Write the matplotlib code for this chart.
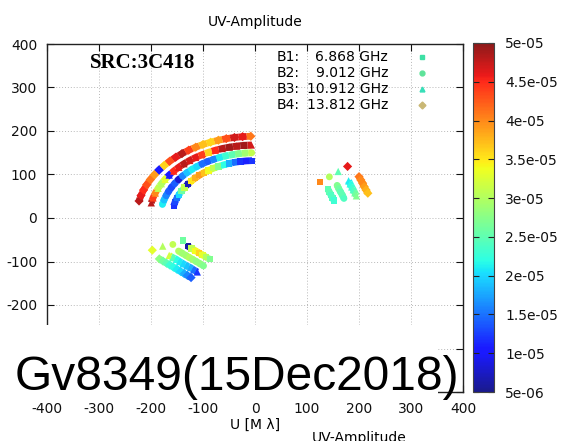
import numpy as np
import matplotlib
matplotlib.use("Agg")
import matplotlib.pyplot as plt
from matplotlib.colors import Normalize, ListedColormap
from matplotlib.collections import LineCollection
from matplotlib.patches import Rectangle

plt.rcParams["font.family"] = ["DejaVu Sans"]
plt.rcParams["font.size"] = 10
plt.rcParams["axes.unicode_minus"] = False

# ---------------- data: U, V in M-lambda, amplitude in units of 1e-5 ----------------
bands = ["B1:", "B2:", "B3:", "B4:"]
freqs = ["6.868 GHz", "9.012 GHz", "10.912 GHz", "13.812 GHz"]

# every band is stored as consecutive tracks: long arc, lower streak,
# right streak, then two isolated visibilities (lengths in bN_tracks)

# B1
b1_u = [-156.5, -153.8, -150.4, -146.2, -141.3, -135.7, -129.4, -122.6, -115.1, -107.1,
        -98.5, -89.5, -80.0, -70.1, -59.9, -49.4, -38.7, -27.8, -16.7, -5.6,
        -129, -122, -115, -108, -101, -94, -87,
        140, 143, 146, 149, 152,
        -139, 125]
b1_v = [27.4, 36.4, 45.1, 53.7, 62.0, 69.9, 77.6, 84.8, 91.7, 98.1,
        104.0, 109.4, 114.3, 118.6, 122.4, 125.5, 128.1, 130.0, 131.3, 131.9,
        -65, -70, -75, -80, -85, -90, -95,
        66.5, 60, 53, 46.5, 40,
        -51.6, 83]
b1_amp = [1.2, 1.3, 1.5, 2.0, 2.6, 3.1, 0.7, 3.5, 3.8, 3.9,
          3.7, 3.4, 3.1, 2.7, 2.2, 1.8, 1.5, 1.2, 1.1, 1.2,
          0.6, 3.1, 3.4, 3.6, 3.3, 3.0, 2.7,
          2.5, 2.5, 2.4, 2.4, 2.3,
          2.6, 4.0]
b1_tracks = [20, 7, 5, 1, 1]

# B2
b2_u = [-178.0, -175.0, -171.0, -166.3, -160.7, -154.3, -147.2, -139.4, -130.9, -121.8,
        -112.1, -101.8, -91.0, -79.8, -68.2, -56.2, -44.0, -31.6, -19.0, -6.4,
        -147, -140, -133, -126, -120, -113, -106, -99,
        158, 161, 164.5, 168, 171,
        -158, 143]
b2_v = [31.2, 41.3, 51.3, 61.0, 70.4, 79.5, 88.2, 96.4, 104.2, 111.5,
        118.2, 124.4, 129.9, 134.8, 139.1, 142.7, 145.5, 147.7, 149.2, 149.9,
        -76, -81, -86, -91, -95, -100, -105, -110,
        75, 67.5, 60, 52.5, 45,
        -60.8, 94.6]
b2_amp = [2.1, 1.9, 1.6, 1.4, 1.3, 1.4, 0.8, 1.6, 1.9, 2.1,
          2.0, 1.5, 1.4, 1.6, 2.1, 2.3, 2.5, 2.7, 2.9, 3.1,
          3.0, 2.9, 2.9, 3.0, 2.9, 2.8, 2.8, 2.7,
          2.7, 2.6, 2.5, 2.5, 2.4,
          3.1, 3.0]
b2_tracks = [20, 8, 5, 1, 1]

# B3
b3_u = [-199.5, -196.1, -191.7, -186.4, -180.1, -173.0, -165.0, -156.3, -146.7, -136.5,
        -125.6, -114.1, -102.0, -89.4, -76.4, -63.0, -49.3, -35.4, -21.3, -7.1,
        -165, -158, -151, -145, -138, -131, -124, -118, -111,
        180, 183, 186, 189, 192, 195,
        -177.5, 160]
b3_v = [34.9, 46.3, 57.5, 68.3, 78.9, 89.0, 98.8, 108.0, 116.7, 124.8,
        132.4, 139.3, 145.5, 151.0, 155.8, 159.8, 163.0, 165.4, 167.1, 167.9,
        -86, -91, -95, -100, -105, -110, -114, -119, -124,
        85.5, 78.5, 71.5, 65, 58, 51,
        -64.6, 107]
b3_amp = [4.8, 4.4, 4.0, 3.1, 3.0, 3.3, 1.0, 4.5, 4.6, 4.8,
          4.7, 4.6, 4.4, 3.6, 4.5, 4.8, 4.9, 4.8, 4.9, 4.7,
          3.2, 2.5, 2.2, 2.1, 2.0, 1.9, 1.8, 1.5, 1.2,
          2.1, 2.2, 2.3, 2.4, 2.6, 2.7,
          3.0, 2.5]
b3_tracks = [20, 9, 6, 1, 1]

# B4
b4_u = [-223.0, -219.2, -214.3, -208.3, -201.3, -193.3, -184.5, -174.6, -164.0, -152.6,
        -140.4, -127.5, -114.0, -100.0, -85.4, -70.5, -55.2, -39.6, -23.8, -8.0,
        -184, -177, -170, -164, -157, -150, -143, -136, -130, -123,
        200, 203.5, 207, 210, 213.5, 217,
        -197.5, 178]
b4_v = [39.1, 51.8, 64.3, 76.5, 88.3, 99.6, 110.5, 120.8, 130.6, 139.7,
        148.1, 155.9, 162.8, 169.0, 174.3, 178.8, 182.4, 185.1, 187.0, 187.9,
        -94, -99, -104, -108, -113, -118, -123, -128, -132, -137,
        95, 87.5, 80, 72, 64.5, 57,
        -74, 118.5]
b4_amp = [4.8, 4.6, 4.5, 4.3, 4.1, 3.9, 1.0, 3.6, 4.3, 4.6,
          4.8, 4.4, 4.0, 3.7, 3.6, 3.9, 4.3, 4.7, 4.6, 4.1,
          2.8, 2.6, 2.5, 2.3, 2.2, 2.1, 2.0, 1.8, 1.6, 1.4,
          4.1, 4.0, 4.0, 3.9, 3.8, 3.7,
          3.3, 4.6]
b4_tracks = [20, 10, 6, 1, 1]

cbar_ticks = [5e-6, 1e-5, 1.5e-5, 2e-5, 2.5e-5, 3e-5, 3.5e-5, 4e-5, 4.5e-5, 5e-5]
cbar_labels = ["5e-06", "1e-05", "1.5e-05", "2e-05", "2.5e-05", "3e-05",
               "3.5e-05", "4e-05", "4.5e-05", "5e-05"]
axis_ticks = [-400, -300, -200, -100, 0, 100, 200, 300, 400]
xtick_labels = ["-400", "-300", "-200", "-100", "0", "100", "200", "300", "400"]
ytick_labels = ["", "", "-200", "-100", "0", "100", "200", "300", "400"]

# ---------------- styling ----------------
jet = plt.get_cmap("jet")(np.linspace(0, 1, 256))
jet[:, :3] = jet[:, :3] * 0.9 + 0.1
cmap = ListedColormap(jet)
norm = Normalize(vmin=5e-6, vmax=5e-5)

markers = ["s", "o", "^", "D"]
sizes = [20, 24, 28, 22]
band_width = 4.9  # points, thickness of a sampled track
legend_colors = ["#3ee0a5", "#5ee39a", "#36dfb8", "#c9b774"]

W, H = 563, 441
fig = plt.figure(figsize=(W / 100, H / 100), dpi=100)
ax = fig.add_axes([47 / W, 1 - 392 / H, 416 / W, 348 / H])
cax = fig.add_axes([473 / W, 1 - 392 / H, 21 / W, 349 / H])

series = [(b1_u, b1_v, b1_amp, b1_tracks), (b2_u, b2_v, b2_amp, b2_tracks),
          (b3_u, b3_v, b3_amp, b3_tracks), (b4_u, b4_v, b4_amp, b4_tracks)]
sc = None
for (u, v, a, tracks), m, s in zip(series, markers, sizes):
    u = np.asarray(u, float)
    v = np.asarray(v, float)
    amp = np.asarray(a, float) * 1e-5
    # each sample paints the stretch of track half-way to its neighbours
    pieces, piece_vals = [], []
    start = 0
    for n in tracks:
        pu, pv, pa = u[start:start + n], v[start:start + n], amp[start:start + n]
        if n > 1:
            for i in range(n):
                p = np.array([pu[i], pv[i]])
                lo = (np.array([pu[i - 1], pv[i - 1]]) + p) / 2 if i > 0 else p
                hi = (np.array([pu[i + 1], pv[i + 1]]) + p) / 2 if i < n - 1 else p
                pieces.append([lo, p, hi])
                piece_vals.append(pa[i])
        start += n
    lc = LineCollection(pieces, cmap=cmap, norm=norm, linewidths=band_width,
                        capstyle="butt", joinstyle="round", zorder=2)
    lc.set_array(np.array(piece_vals))
    ax.add_collection(lc)
    sc = ax.scatter(u, v, c=amp, cmap=cmap, norm=norm,
                    marker=m, s=s, linewidths=0, zorder=3)

ax.set_xlim(-400, 400)
ax.set_ylim(-400, 400)
ax.set_xticks(axis_ticks, xtick_labels)
ax.set_yticks(axis_ticks, ytick_labels)
ax.grid(True, color="#b8b8b8", linestyle=(0, (1, 2)), linewidth=0.7)
ax.set_axisbelow(True)
ax.tick_params(direction="in", length=5, top=True, right=True, pad=7,
               colors="#111111", labelcolor="#111111")
for sp in ax.spines.values():
    sp.set_color("#222222")
    sp.set_linewidth(1.0)

ax.set_title("UV-Amplitude", fontsize=10, pad=13)
ax.set_xlabel("U [M \u03bb]", fontsize=10)
ax.xaxis.set_label_coords(0.5, -0.073)

# source name
ax.text((90 - 47) / 416, 1 - (68 - 44) / 348, "SRC:3C418", transform=ax.transAxes,
        family="Liberation Serif", fontweight="bold", fontsize=15,
        ha="left", va="baseline")

# key
key_y = [57, 73, 89, 105]
for band, fq, m, col, yy in zip(bands, freqs, markers, legend_colors, key_y):
    ya = 1 - (yy - 44) / 348
    ax.text((277 - 47) / 416, ya, band, transform=ax.transAxes, ha="left", va="center")
    ax.text((388 - 47) / 416, ya, fq, transform=ax.transAxes, ha="right", va="center")
    ax.plot([(422 - 47) / 416], [ya], marker=m, color=col, markersize=3.5,
            linestyle="none", transform=ax.transAxes)

# colour bar
cb = fig.colorbar(sc, cax=cax)
cb.set_ticks(cbar_ticks)
cb.set_ticklabels(cbar_labels)
cb.outline.set_edgecolor("#444444")
cb.outline.set_linewidth(0.8)
cax.tick_params(direction="in", length=4, left=True, right=True, pad=8,
                colors="#222222", labelcolor="#111111", labelsize=10)

fig.text(359 / W, 1 - 431 / H, "UV-Amplitude", ha="center", va="top", fontsize=10)

# session label over a white panel
fig.patches.append(Rectangle((8 / W, 1 - 398 / H), 430 / W, 73 / H,
                             transform=fig.transFigure, facecolor="white",
                             edgecolor="none", zorder=5))
fig.text(15 / W, 1 - 390 / H, "Gv8349(15Dec2018)", family="Liberation Sans",
         fontsize=34.5, ha="left", va="baseline", zorder=6)

fig.savefig("out.png", dpi=100)
